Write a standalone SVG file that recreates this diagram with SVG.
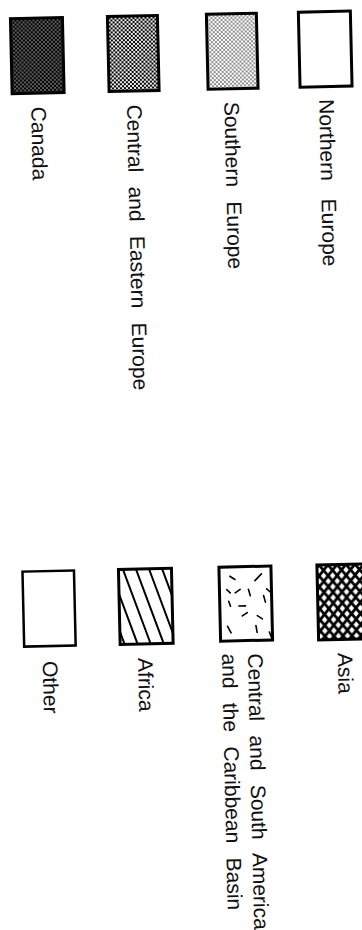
<svg xmlns="http://www.w3.org/2000/svg" width="362" height="930" viewBox="0 0 362 930">
<style>
.box{stroke:#000;stroke-width:3;}
.thin{stroke:#000;stroke-width:2.5;fill:#fff;}
.lbl{font-family:"Liberation Sans",Arial,Helvetica,sans-serif;font-size:21px;fill:#111;word-spacing:8.5px;}
.dash{stroke:#000;stroke-width:1.6;stroke-linecap:round;fill:none;}
.hl{stroke:#000;stroke-width:2;fill:none;}
</style>
<defs>
<pattern id="dark" width="4" height="4" patternUnits="userSpaceOnUse"><rect width="4" height="4" fill="#000"/><circle cx="1" cy="1" r="0.7" fill="#fff"/><circle cx="3" cy="3" r="0.7" fill="#fff"/></pattern>
<pattern id="mid" width="4" height="4" patternUnits="userSpaceOnUse"><rect width="4" height="4" fill="#fff"/><circle cx="1" cy="1" r="1.2" fill="#000"/><circle cx="3" cy="3" r="1.2" fill="#000"/></pattern>
<pattern id="light" width="4" height="4" patternUnits="userSpaceOnUse"><rect width="4" height="4" fill="#fff"/><circle cx="1" cy="1" r="0.8" fill="#000"/><circle cx="3" cy="3" r="0.8" fill="#000"/></pattern>
<pattern id="mesh" width="9" height="11" patternUnits="userSpaceOnUse"><rect width="9" height="11" fill="#fff"/><path d="M-2,-2.44 L11,13.44 M11,-2.44 L-2,13.44" stroke="#000" stroke-width="2.7"/></pattern>
<clipPath id="afClip"><rect x="105.5" y="572" width="53" height="75"/></clipPath>
</defs>
<g transform="rotate(-1.3)">
<g id="canada">
<rect class="box" x="10" y="19" width="52" height="75" fill="url(#dark)"/>
<text class="lbl" transform="translate(28.7,107.5) rotate(90)">Canada</text>
</g>
<g id="central-eastern-europe">
<rect class="box" x="107" y="19" width="50" height="75" fill="url(#mid)"/>
<text class="lbl" transform="translate(124.5,107.5) rotate(90)">Central and Eastern Europe</text>
</g>
<g id="southern-europe">
<rect class="box" x="206" y="19" width="50" height="75" fill="url(#light)"/>
<text class="lbl" transform="translate(222,107) rotate(90)">Southern Europe</text>
</g>
<g id="northern-europe">
<rect class="box" x="298" y="19" width="52" height="75" fill="#fff"/>
<text class="lbl" style="word-spacing:12px" transform="translate(316.8,106.5) rotate(90)">Northern Europe</text>
</g>
<g id="other">
<rect class="thin" x="9.5" y="572" width="51.5" height="75"/>
<text class="lbl" transform="translate(27.7,662) rotate(90)">Other</text>
</g>
<g id="africa">
<rect x="105.5" y="572" width="53" height="75" fill="#fff"/>
<g clip-path="url(#afClip)">
<path class="hl" d="M84,572 L110,647 M97,572 L123,647 M110,572 L136,647 M123,572 L149,647 M136,572 L162,647 M149,572 L175,647"/>
</g>
<rect class="box" x="105.5" y="572" width="53" height="75" fill="none"/>
<text class="lbl" transform="translate(123,661) rotate(90)">Africa</text>
</g>
<g id="central-south-america">
<rect class="box" x="206" y="572" width="52" height="74" fill="#fff"/>
<g transform="translate(206,572)">
<path class="dash" d="M10.7,9.3 L15.7,12.7 M35.7,14.3 L42.3,7.7 M47.3,22.7 L50.7,26 M7.3,22.7 L10.7,26 M15.7,26 L20.7,22.7 M29,22.7 L30.7,29.3 M44,29.3 L45.7,36 M9,34.3 L10.7,39.3 M19,39.3 L25.7,39.3 M22.3,49.3 L27.3,46 M37.3,49.3 L42.3,52.7 M7.3,59.3 L10.7,66 M35.7,59.3 L36.7,66 M49,66 L50.7,71"/>
</g>
<text class="lbl" transform="translate(233,659) rotate(90)">Central and South America</text>
<text class="lbl" transform="translate(207,658.5) rotate(90)">and the Caribbean Basin</text>
</g>
<g id="asia">
<rect class="box" x="304" y="572" width="50" height="75" fill="url(#mesh)"/>
<text class="lbl" transform="translate(322.8,660.5) rotate(90)">Asia</text>
</g>
<g id="connectors"/>
</g>
</svg>
